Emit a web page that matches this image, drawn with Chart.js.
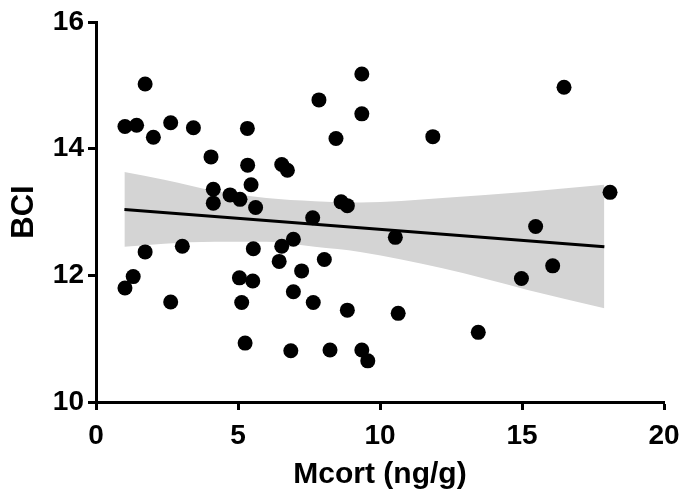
<!DOCTYPE html>
<html>
<head>
<meta charset="utf-8">
<script src="https://cdn.jsdelivr.net/npm/chart.js@4/dist/chart.umd.min.js"></script>
<style>
  html, body { margin: 0; padding: 0; background: #ffffff; }
  #wrap { width: 693px; height: 497px; position: relative; }
</style>
</head>
<body>
<div id="wrap"><canvas id="c"></canvas></div>
<script>
// Observed data (Mcort ng/g vs BCI)
const mcort = [1.02, 1.43, 1.73, 2.02, 2.63, 3.43, 4.05, 4.13, 4.13, 4.72, 5.07, 5.33, 5.34, 5.46, 5.62,
               1.73, 3.04, 1.31, 1.02, 2.63, 5.54, 5.05, 5.52, 5.13, 5.25, 6.45, 6.54, 6.54, 6.74, 6.95,
               6.95, 6.86, 7.24, 7.63, 7.65, 7.85, 8.04, 8.45, 8.63, 8.85, 8.85, 8.24, 9.36, 9.36, 9.36,
               9.57, 10.54, 10.64, 11.86, 13.46, 14.98, 15.48, 16.08, 16.48, 18.1];
const bci   = [14.35, 14.37, 15.02, 14.18, 14.41, 14.33, 13.87, 13.36, 13.14, 13.27, 13.20, 14.32, 13.74, 13.43, 13.07,
               12.37, 12.46, 11.98, 11.80, 11.58, 12.42, 11.96, 11.91, 11.57, 10.93, 12.22, 12.46, 13.75, 13.66, 12.57,
               11.74, 10.81, 12.07, 12.91, 11.57, 14.77, 12.25, 14.16, 13.16, 13.10, 11.45, 10.82, 15.18, 14.55, 10.82,
               10.65, 12.60, 11.40, 14.19, 11.10, 11.95, 12.77, 12.15, 14.97, 13.31];

// Fitted line endpoints as drawn
const fitX = [1.0, 17.9];
const fitY = [13.04, 12.45];

// Confidence band edges as drawn
const bandX     = [1.0, 2.4, 4.2, 6.0, 7.7, 9.3, 12.2, 15.2, 17.9];
const bandUpper = [13.63, 13.51, 13.33, 13.22, 13.17, 13.15, 13.22, 13.32, 13.43];
const bandLower = [12.45, 12.50, 12.53, 12.53, 12.45, 12.37, 12.11, 11.77, 11.48];

// Axis ticks
const xTicks = [0, 5, 10, 15, 20];
const yTicks = [10, 12, 14, 16];

const pts = mcort.map((x, i) => ({ x: x, y: bci[i] }));
const fit = fitX.map((x, i) => ({ x: x, y: fitY[i] }));
const up  = bandX.map((x, i) => ({ x: x, y: bandUpper[i] }));
const lo  = bandX.map((x, i) => ({ x: x, y: bandLower[i] }));

const FONT = "'Liberation Sans', Arial, Helvetica, sans-serif";

new Chart(document.getElementById('c'), {
  type: 'scatter',
  data: {
    datasets: [
      { label: 'data', data: pts, backgroundColor: '#000000', borderColor: '#000000',
        pointRadius: 7.5, pointHoverRadius: 7.5, borderWidth: 0 },
      { label: 'fit', data: fit, showLine: true, borderColor: '#000000', borderWidth: 3,
        pointRadius: 0, fill: false },
      { label: 'upper', data: up, showLine: true, borderWidth: 0, borderColor: 'rgba(0,0,0,0)',
        pointRadius: 0, backgroundColor: '#d4d4d4', fill: '+1', cubicInterpolationMode: 'monotone' },
      { label: 'lower', data: lo, showLine: true, borderWidth: 0, borderColor: 'rgba(0,0,0,0)',
        pointRadius: 0, backgroundColor: '#d4d4d4', fill: false, cubicInterpolationMode: 'monotone' }
    ]
  },
  options: {
    responsive: true,
    maintainAspectRatio: false,
    animation: false,
    layout: { padding: { left: 0, top: 22, right: 29, bottom: 0 } },
    plugins: { legend: { display: false }, tooltip: { enabled: false } },
    scales: {
      x: {
        type: 'linear', min: 0, max: 20,
        afterFit: (s) => { s.height = 95; },
        afterBuildTicks: (s) => { s.ticks = xTicks.map(v => ({ value: v })); },
        border: { display: true, color: '#000000', width: 3 },
        grid: { display: true, drawOnChartArea: false, drawTicks: true, tickLength: 8, tickWidth: 3, tickColor: '#000000' },
        ticks: { color: '#000000', padding: 9, font: { family: FONT, size: 28, weight: 'bold' }, maxRotation: 0 },
        title: { display: true, text: 'Mcort (ng/g)', color: '#000000',
                 font: { family: FONT, size: 30, weight: 'bold' }, padding: { top: 2, bottom: 4 } }
      },
      y: {
        type: 'linear', min: 10, max: 16,
        afterFit: (s) => { s.width = 96; },
        afterBuildTicks: (s) => { s.ticks = yTicks.map(v => ({ value: v })); },
        border: { display: true, color: '#000000', width: 3 },
        grid: { display: true, drawOnChartArea: false, drawTicks: true, tickLength: 8, tickWidth: 3, tickColor: '#000000' },
        ticks: { color: '#000000', padding: 4, font: { family: FONT, size: 28, weight: 'bold' } },
        title: { display: true, text: 'BCI', color: '#000000',
                 font: { family: FONT, size: 31, weight: 'bold' }, padding: { top: 6, bottom: 0 } }
      }
    }
  }
});
</script>
</body>
</html>
